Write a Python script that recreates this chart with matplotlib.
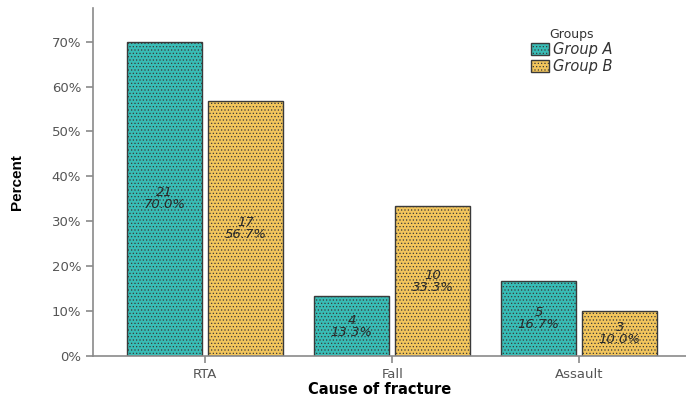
import matplotlib.pyplot as plt
import numpy as np

plt.rcParams['font.family'] = ['DejaVu Sans']

causes = ['RTA', 'Fall', 'Assault']
counts_a = [21, 4, 5]
counts_b = [17, 10, 3]
pct_a = [70.0, 13.3, 16.7]
pct_b = [56.7, 33.3, 10.0]
groups = ['Group A', 'Group B']
yticks = [0, 10, 20, 30, 40, 50, 60, 70]

col_a = '#38bcb6'
col_b = '#f2c55c'
plt.rcParams['hatch.color'] = '#5a7a70'
plt.rcParams['hatch.linewidth'] = 0.5

fig = plt.figure(figsize=(6.86, 4.0), dpi=100)
ax = fig.add_axes([0.1356, 0.11, 0.8644, 0.87])

x = np.arange(len(causes))
w = 0.40
off = 0.217
ax.bar(x - off, pct_a, w, color=col_a, edgecolor='#3a3a3a', linewidth=1.0,
       hatch='.....', label=groups[0])
ax.bar(x + off, pct_b, w, color=col_b, edgecolor='#3a3a3a', linewidth=1.0,
       hatch='.....', label=groups[1])

for i in range(len(causes)):
    ax.text(x[i] - off, pct_a[i] / 2, f'{counts_a[i]}\n{pct_a[i]:.1f}%', ha='center', va='center',
            fontsize=9.5, style='italic', color='#2a2a2a', linespacing=0.9)
    ax.text(x[i] + off, pct_b[i] / 2, f'{counts_b[i]}\n{pct_b[i]:.1f}%', ha='center', va='center',
            fontsize=9.5, style='italic', color='#2a2a2a', linespacing=0.9)

ax.set_xlim(-0.6, 2.571)
ax.set_ylim(0, 77.5)
ax.set_yticks(yticks)
ax.set_yticklabels([f'{t}%' for t in yticks])
ax.set_xticks(x)
ax.set_xticklabels(causes)

for s in ['top', 'right']:
    ax.spines[s].set_visible(False)
for s in ['left', 'bottom']:
    ax.spines[s].set_color('#8a8a8a')
    ax.spines[s].set_linewidth(1.2)
ax.tick_params(axis='both', colors='#8a8a8a', labelcolor='#555555', labelsize=9.5,
               length=5, width=1.2)

ax.set_ylabel('Percent', fontsize=11, fontweight='bold', family='Liberation Sans', labelpad=20)
ax.set_xlabel('Cause of fracture', fontsize=10.5, fontweight='bold', labelpad=1)
ax.xaxis.label.set_x(0.483)

leg = ax.legend(title='Groups', loc='upper left', bbox_to_anchor=(0.729, 0.96), frameon=False,
                fontsize=10.5, title_fontsize=9, handlelength=1.2, handleheight=0.9,
                handletextpad=0.3, borderaxespad=0, labelspacing=0.1)
for t in leg.get_texts():
    t.set_style('italic')
    t.set_color('#333333')
leg.get_title().set_color('#333333')

fig.savefig('out.png', dpi=100)
